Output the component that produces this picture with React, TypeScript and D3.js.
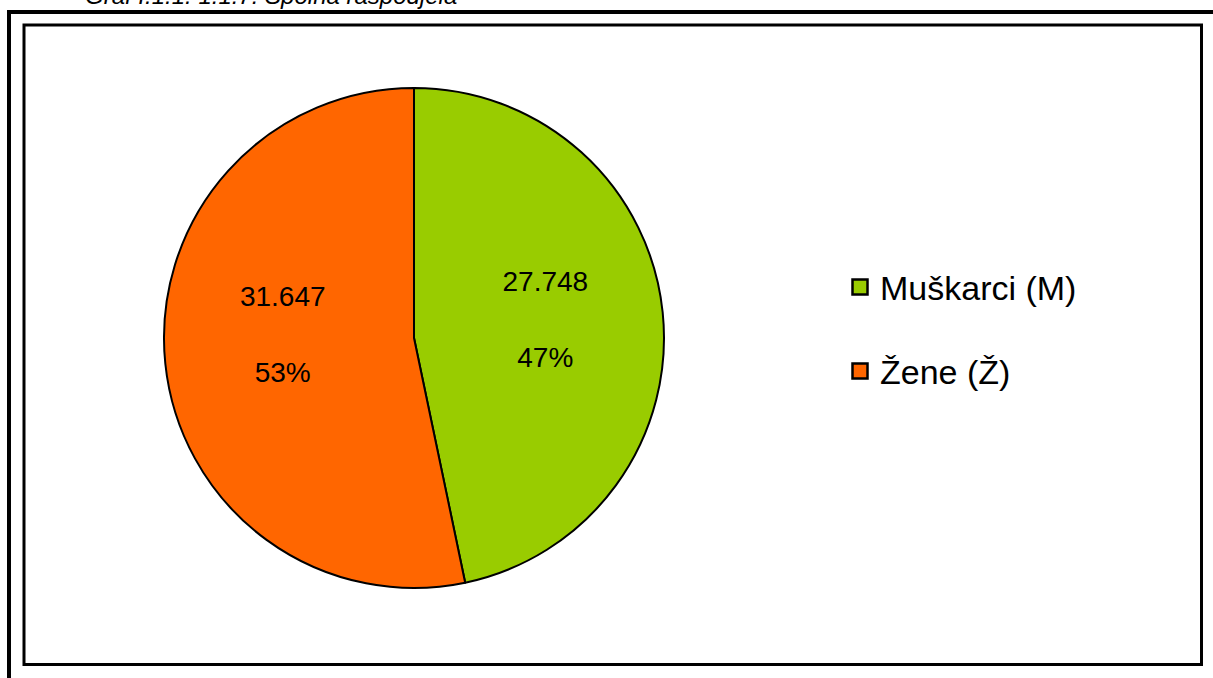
import React, { useEffect, useRef } from "react";
import * as d3 from "d3";

// chart data
const categories = ["Muškarci (M)", "Žene (Ž)"];
const values = [27748, 31647];
const valueLabels = ["27.748", "31.647"];
const percentLabels = ["47%", "53%"];
const colors = ["#99CC00", "#FF6600"];
const caption = "Graf I.1.1. 1.1.7. Spolna raspodjela";

const W = 1213;
const H = 678;

function PieChart() {
    const svgRef = useRef<SVGSVGElement | null>(null);

    useEffect(() => {
        const svg = d3.select(svgRef.current);
        svg.selectAll("*").remove();

        const font = "Arial, 'Liberation Sans', sans-serif";

        // caption, cut off at the top of the page
        svg.append("text")
            .attr("x", 85)
            .attr("y", 4)
            .attr("font-family", font)
            .attr("font-style", "italic")
            .attr("font-size", 24)
            .attr("fill", "#000")
            .text(caption);

        // outer frame (top + left only visible)
        svg.append("line")
            .attr("x1", 7).attr("x2", W)
            .attr("y1", 12).attr("y2", 12)
            .attr("stroke", "#000").attr("stroke-width", 4);
        svg.append("line")
            .attr("x1", 9).attr("x2", 9)
            .attr("y1", 10).attr("y2", H)
            .attr("stroke", "#000").attr("stroke-width", 4);

        // inner chart area border
        svg.append("rect")
            .attr("x", 24).attr("y", 25)
            .attr("width", 1201.5 - 24).attr("height", 664.5 - 25)
            .attr("fill", "#fff")
            .attr("stroke", "#000").attr("stroke-width", 3);

        const cx = 414;
        const cy = 338;
        const radius = 250;

        const pie = d3.pie<number>().sort(null).value((d) => d);
        const arcs = pie(values);
        const arc = d3.arc<d3.PieArcDatum<number>>().innerRadius(0).outerRadius(radius);
        const labelArc = d3.arc<d3.PieArcDatum<number>>().innerRadius(132).outerRadius(132);

        const g = svg.append("g").attr("transform", `translate(${cx},${cy})`);

        g.selectAll("path")
            .data(arcs)
            .join("path")
            .attr("d", arc)
            .attr("fill", (d, i) => colors[i])
            .attr("stroke", "#000")
            .attr("stroke-width", 2)
            .attr("stroke-linejoin", "round");

        // data labels: value + percent (block pulled toward the middle vertically)
        const labels = g.selectAll("g.lbl")
            .data(arcs)
            .join("g")
            .attr("class", "lbl")
            .attr("transform", (d) => {
                const [x, y] = labelArc.centroid(d);
                return `translate(${x},${y * 0.55 - 12.5})`;
            });
        labels.append("text")
            .attr("y", -27)
            .attr("text-anchor", "middle")
            .attr("font-family", font)
            .attr("font-size", 28)
            .text((d, i) => valueLabels[i]);
        labels.append("text")
            .attr("y", 49)
            .attr("text-anchor", "middle")
            .attr("font-family", font)
            .attr("font-size", 28)
            .text((d, i) => percentLabels[i]);

        // legend
        const legend = svg.append("g")
            .selectAll("g")
            .data(categories)
            .join("g")
            .attr("transform", (d, i) => `translate(851,${278 + i * 84})`);
        legend.append("rect")
            .attr("x", 1.5).attr("y", 1.5)
            .attr("width", 15).attr("height", 15)
            .attr("fill", (d, i) => colors[i])
            .attr("stroke", "#000")
            .attr("stroke-width", 2.5);
        legend.append("text")
            .attr("x", 29)
            .attr("y", 22)
            .attr("font-family", font)
            .attr("font-size", 34)
            .text((d) => d);
    }, []);

    return (
        <svg
            ref={svgRef}
            width={W}
            height={H}
            style={{ position: "absolute", left: 0, top: 0, background: "#fff" }}
        ></svg>
    );
}

export default function App() {
    return <PieChart />;
}
